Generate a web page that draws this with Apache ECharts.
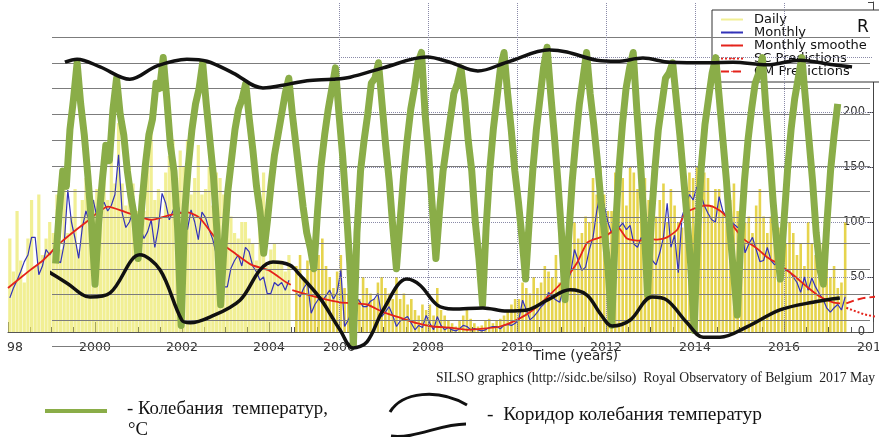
<!DOCTYPE html>
<html><head><meta charset="utf-8">
<script src="https://cdn.jsdelivr.net/npm/echarts@6/dist/echarts.min.js"></script>
<style>html,body{margin:0;padding:0;background:#fff}#c{width:879px;height:437px}</style>
</head><body><div id="c"></div>
<script>
// ---------------- SILSO sunspot data (left panel 1998.0-2004.5, monthly) ----------------
const leftStartYear = 1998;
const dailyLeftHigh = [
  95, 70, 120, 85, 60, 110, 140, 90, 150, 100, 120, 130,
  120, 150, 110, 160, 130, 140, 170, 120, 150, 180, 140, 160,
  170, 150, 190, 160, 210, 180, 230, 170, 160, 190, 170, 150,
  160, 140, 200, 230, 150, 170, 140, 190, 200, 220, 180, 200,
  190, 210, 170, 180, 200, 160, 170, 180, 150, 170, 160, 140,
  130, 120, 110, 100, 110, 120, 100, 90, 80, 110, 150, 70,
  80, 90, 70, 75, 60, 80];
const dailyLeftLow = [
  10, 15, 10, 20, 15, 25, 20, 30, 25, 30, 35, 30,
  30, 25, 35, 30, 40, 35, 40, 45, 30, 40, 45, 40,
  40, 35, 45, 40, 50, 45, 40, 35, 45, 40, 35, 40,
  35, 30, 25, 35, 30, 40, 35, 45, 40, 45, 40, 35,
  40, 35, 45, 40, 30, 35, 40, 30, 35, 25, 20, 15,
  10, 15, 20, 15, 10, 20, 15, 10, 15, 10, 5, 10,
  5, 10, 5, 10, 5, 10];
const monthlyLeft = [
  31, 40, 47, 55, 64, 70, 86, 86, 52, 60, 75, 70,
  75, 65, 63, 80, 129, 100, 85, 67, 95, 110, 100, 120,
  105, 115, 118, 110, 115, 125, 161, 108, 95, 100, 110, 105,
  95, 85, 91, 102, 77, 95, 126, 117, 102, 110, 120, 108,
  108, 93, 111, 100, 84, 109, 104, 93, 84, 70, 60, 41,
  41, 58, 65, 70, 60, 77, 73, 60, 55, 47, 50, 35,
  35, 45, 42, 45, 38, 47];
const smoothLeftYears = [1998.0, 1998.5, 1998.8, 1999.2, 1999.8, 2000.3, 2000.7, 2001.3, 2001.7, 2002.1, 2002.4, 2002.8, 2003.2, 2003.6, 2004.0, 2004.4, 2004.5];
const smoothLeftValues = [40, 56, 65, 81, 100, 114, 109, 102, 106, 109, 104, 84, 72, 61, 56, 45, 43];

// ---------------- SILSO sunspot data (right panel 2005.0-2017.4, monthly) ----------------
const rightStartYear = 2005;
const dailyRightHigh = [
  60, 70, 50, 65, 80, 90, 70, 85, 60, 50, 40, 55,
  70, 40, 35, 60, 45, 30, 50, 40, 35, 30, 45, 50,
  40, 35, 30, 50, 30, 35, 25, 30, 20, 15, 25, 20,
  25, 15, 40, 20, 15, 10, 8, 5, 10, 15, 20, 12,
  8, 5, 6, 10, 12, 8, 10, 12, 15, 20, 25, 30,
  30, 45, 40, 35, 50, 40, 45, 60, 55, 50, 70, 45,
  60, 80, 120, 110, 90, 100, 120, 110, 160, 150, 170, 140,
  130, 120, 160, 140, 150, 130, 170, 160, 140, 150, 160, 130,
  120, 110, 130, 150, 120, 140, 130, 110, 100, 150, 170, 160,
  180, 200, 170, 160, 140, 150, 160, 130, 150, 140, 150, 130,
  120, 110, 120, 100, 130, 140, 110, 100, 110, 90, 100, 110,
  80, 100, 90, 70, 80, 60, 100, 80, 70, 60, 80, 60,
  50, 60, 40, 45, 100];
const dailyRightLow = [
  0, 0, 0, 0, 0, 0, 0, 0, 0, 0, 0, 0,
  0, 0, 0, 0, 0, 0, 0, 0, 0, 0, 0, 0,
  0, 0, 0, 0, 0, 0, 0, 0, 0, 0, 0, 0,
  0, 0, 0, 0, 0, 0, 0, 0, 0, 0, 0, 0,
  0, 0, 0, 0, 0, 0, 0, 0, 0, 0, 0, 0,
  0, 0, 0, 0, 0, 0, 0, 0, 0, 0, 0, 0,
  0, 5, 10, 10, 5, 10, 15, 10, 20, 25, 20, 15,
  20, 10, 15, 20, 10, 15, 20, 15, 10, 15, 20, 10,
  10, 5, 10, 15, 20, 10, 15, 10, 5, 20, 25, 20,
  30, 35, 25, 20, 25, 20, 30, 20, 25, 20, 15, 20,
  15, 10, 15, 10, 15, 10, 5, 10, 5, 10, 5, 10,
  0, 0, 0, 0, 0, 0, 0, 0, 0, 0, 0, 0,
  0, 0, 0, 0, 0];
const monthlyRight = [
  35, 32, 40, 45, 17, 25, 30, 28, 33, 38, 30, 36,
  56, 5, 11, 20, 32, 28, 23, 23, 28, 30, 35, 14,
  18, 23, 15, 5, 10, 12, 14, 8, 2, 6, 4, 15,
  8, 2, 14, 6, 2, 4, 2, 1, 3, 6, 5, 2,
  3, 2, 1, 2, 4, 5, 5, 3, 6, 7, 6, 8,
  11, 29, 20, 11, 14, 18, 23, 26, 36, 32, 29, 27,
  38, 45, 54, 75, 65, 56, 59, 75, 86, 110, 127, 115,
  100, 90, 93, 95, 99, 93, 97, 80, 77, 86, 82, 75,
  65, 61, 72, 86, 117, 77, 88, 54, 105, 115, 125, 120,
  132, 126, 115, 108, 102, 100, 123, 110, 105, 100, 98, 95,
  95, 72, 80, 86, 75, 64, 65, 77, 65, 61, 65, 60,
  56, 55, 50, 45, 36, 50, 38, 49, 41, 35, 30, 22,
  18, 22, 25, 20, 32];
const smoothRightYears = [2004.95, 2005.12, 2005.57, 2006.02, 2006.63, 2006.99, 2007.37, 2007.75, 2008.11, 2008.49, 2008.88, 2009.24, 2009.62, 2010.0, 2010.36, 2010.74, 2011.12, 2011.35, 2011.57, 2011.71, 2011.87, 2012.02, 2012.27, 2012.47, 2012.76, 2012.92, 2013.15, 2013.37, 2013.6, 2013.78, 2014.22, 2014.4, 2014.63, 2015.08, 2015.39, 2015.62, 2015.91, 2016.2, 2016.52, 2016.81, 2017.1, 2017.26];
const smoothRightValues = [38, 36, 31, 27, 25, 18, 13, 8, 5, 4, 2, 3, 5, 11, 20, 34, 50, 63, 81, 84, 86, 88, 95, 85, 83, 85, 84, 86, 93, 108, 115, 114, 108, 85, 76, 68, 61, 52, 41, 32, 27, 26];
const predYears = [2017.4, 2017.6, 2017.8, 2018.05];
const scPredValues = [22, 19, 16, 14];
const cmPredValues = [26, 29, 31, 32];

// ---------------- axis ticks / labels ----------------
const majorYearsLeft = [1998, 2000, 2002, 2004];
const majorYearsRight = [2006, 2008, 2010, 2012, 2014, 2016, 2018];
const dottedGridYears = [2006, 2008, 2010, 2012, 2014, 2016];
const dottedGridValues = [50, 100, 150, 200, 250];
const rLabelMax = 200;

// ---------------- overlay: temperature oscillation (monthly, °C) ----------------
const tempStartMonth = 1;
const tempValues = [
  -14, -4, 4, 1, 12, 18, 25, 17, 11, 3, -6, -18,
  -6, 2, 9, 6, 16, 22, 15, 11, 4, -1, -5, -13,
  -3, 5, 11, 14, 21, 20, 26, 18, 9, 4, -7, -26,
  -4, 5, 12, 17, 20, 25, 17, 10, 3, -8, -22,
  -10, 0, 6, 12, 16, 18, 21, 14, 8, 1, -4, -12,
  -6, 1, 7, 11, 15, 19, 22, 15, 9, 3, -3, -8, -11, -15,
  -4, 5, 11, 16, 20, 24, 15, 7, -3, -14, -30,
  -8, 4, 10, 15, 21, 22, 25, 17, 9, 2, -7, -15,
  -6, 3, 10, 16, 20, 25, 27, 15, 7, -3, -13,
  -4, 4, 9, 14, 19, 21, 24, 18, 10, 4, -6, -13, -22,
  -7, 4, 12, 18, 24, 27, 19, 12, 4, -2, -9, -17,
  -6, 4, 12, 18, 24, 28, 19, 11, 2, -8, -21,
  -9, 2, 10, 17, 22, 27, 19, 13, 6, -2, -8, -15, -26,
  -8, 4, 13, 20, 24, 27, 16, 6, -6, -20,
  -6, 4, 12, 17, 22, 23, 25, 18, 11, 3, -5, -14, -27,
  -7, 5, 13, 18, 23, 26, 18, 10, 2, -8, -16, -24,
  -9, 2, 10, 16, 21, 23, 26, 16, 8, -2, -10, -17,
  -6, 4, 12, 18, 22, 26, 18, 10, 2, -8, -15, -18,
  -6, 4, 11, 17];
const corridorUpperMonths = [3.6, 7.0, 13.4, 21.7, 29.3, 37.6, 43.2, 50.5, 58.8, 66.3, 71.1, 78.3, 83.1, 92.3, 104.5, 110.9, 118.7, 126.8, 138.8, 143.5, 151.9, 157.5, 164.7, 172.3, 183.4, 189.8, 199.3, 208.5, 217.7, 223.0];
const corridorUpperValues = [25.1, 25.7, 24.2, 21.8, 24.4, 25.7, 25.3, 23.0, 20.1, 20.9, 21.5, 21.8, 22.2, 24.0, 26.1, 25.1, 23.4, 25.1, 27.5, 27.1, 25.5, 25.3, 25.9, 25.1, 25.0, 25.1, 24.6, 25.5, 24.6, 24.2];
const corridorLowerMonths = [-2.5, 4.2, 10.6, 16.2, 24.5, 30.1, 36.2, 38.5, 44.0, 52.4, 58.0, 61.6, 66.3, 69.1, 74.7, 80.3, 83.9, 87.8, 92.3, 98.9, 102.6, 107.3, 111.8, 120.1, 126.8, 132.4, 138.0, 144.4, 149.1, 152.7, 156.1, 161.1, 167.2, 171.4, 177.0, 181.5, 186.2, 193.7, 202.9, 212.1, 219.6];
const corridorLowerValues = [-14.9, -17.8, -20.5, -19.7, -12.3, -15.2, -25.0, -25.5, -24.4, -21.1, -15.2, -13.7, -14.3, -16.2, -20.7, -26.9, -30.4, -29.2, -23.0, -17.0, -18.2, -22.0, -22.8, -22.6, -23.2, -23.0, -21.1, -19.1, -20.1, -23.6, -26.1, -25.0, -20.5, -21.1, -25.5, -28.3, -28.3, -26.3, -23.0, -21.5, -20.7];

// ---------------- build ----------------
const mid = (start, i) => start + (i + 0.5) / 12;
const pairs = (xs, ys) => xs.map((x, i) => [x, ys[i]]);
const FONT = 'DejaVu Sans';
const RED = '#e4231b', BLUE = '#3333b8', GREEN = '#8aad48';

const hiddenY = (g) => ({ gridIndex: g, type: 'value', show: false, min: 0, max: 1 });
const chart = echarts.init(document.getElementById('c'), null, { renderer: 'canvas' });

const option = {
  animation: false,
  backgroundColor: '#fff',
  grid: [
    { left: 8, top: 2, width: 282.75, height: 330, outerBoundsMode: 'none' },
    { left: 290.94, top: 2, width: 582.06, height: 330, outerBoundsMode: 'none' },
    { left: 52, top: 37, width: 818, height: 309, outerBoundsMode: 'none' },
    { left: 8, top: 2, width: 282.75, height: 330, outerBoundsMode: 'none' },
    { left: 294.5, top: 2, width: 578.5, height: 330, outerBoundsMode: 'none' },
    { left: 8, top: 2, width: 261, height: 330, outerBoundsMode: 'none' },
    { left: 339, top: 2, width: 534, height: 330, outerBoundsMode: 'none' }
  ],
  xAxis: [
    { gridIndex: 0, type: 'value', min: 1998, max: 2004.5, axisLine: { show: true, onZero: false, lineStyle: { color: '#555' } }, axisTick: { show: false }, axisLabel: { show: false }, splitLine: { show: false } },
    { gridIndex: 1, type: 'value', min: 2004.92, max: 2018, axisLine: { show: true, onZero: false, lineStyle: { color: '#555' } }, axisTick: { show: false }, axisLabel: { show: false }, splitLine: { show: false } },
    { gridIndex: 2, type: 'value', min: 0, max: 228, show: false },
    { gridIndex: 3, type: 'value', min: 1998, max: 2004.5, interval: 0.5, axisLine: { show: false }, axisTick: { inside: true, length: 5, lineStyle: { color: '#555' } }, axisLabel: { show: false }, splitLine: { show: false } },
    { gridIndex: 4, type: 'value', min: 2005, max: 2018, interval: 0.5, axisLine: { show: false }, axisTick: { inside: true, length: 5, lineStyle: { color: '#555' } }, axisLabel: { show: false }, splitLine: { show: false } },
    { gridIndex: 5, type: 'value', min: majorYearsLeft[0], max: majorYearsLeft[majorYearsLeft.length - 1], interval: 2, axisLine: { show: false }, axisTick: { inside: true, length: 10, lineStyle: { color: '#555' } }, splitLine: { show: false },
      axisLabel: { margin: 9, fontFamily: FONT, fontSize: 12.5, color: '#333',
        formatter: v => v === 1998 ? '{s|98}' : String(v),
        rich: { s: { padding: [0, 0, 0, 14], fontFamily: FONT, fontSize: 12.5, color: '#333' } } } },
    { gridIndex: 6, type: 'value', min: majorYearsRight[0], max: majorYearsRight[majorYearsRight.length - 1], interval: 2, axisLine: { show: false }, axisTick: { inside: true, length: 10, lineStyle: { color: '#555' } }, splitLine: { show: false },
      axisLabel: { margin: 9, fontFamily: FONT, fontSize: 12.5, color: '#333', formatter: v => String(v) } }
  ],
  yAxis: [
    { gridIndex: 0, type: 'value', min: 0, max: 300, show: false },
    { gridIndex: 1, type: 'value', min: 0, max: 300, interval: 50, position: 'right',
      axisLine: { show: true, lineStyle: { color: '#444' } },
      axisTick: { inside: true, length: 5, lineStyle: { color: '#444' } },
      axisLabel: { inside: true, margin: 8, fontFamily: FONT, fontSize: 11.5, color: '#333', padding: [0, 0, 9, 0], formatter: v => v <= rLabelMax ? String(v) : '' },
      splitLine: { show: false } },
    { gridIndex: 2, type: 'value', min: -30, max: 30, interval: 5, z: 5,
      axisLine: { show: false }, axisTick: { show: false }, axisLabel: { show: false },
      splitLine: { show: true, lineStyle: { color: '#7c7c7c', width: 1.2 } } },
    hiddenY(3), hiddenY(4), hiddenY(5), hiddenY(6)
  ],
  legend: {
    data: ['Daily', 'Monthly', 'Monthly smoothed', 'SC Predictions', 'CM Predictions'],
    orient: 'vertical', left: 712, top: 10, itemGap: 0, itemWidth: 22, itemHeight: 2,
    padding: [3, 30, 4, 8], backgroundColor: '#fff', borderColor: '#333', borderWidth: 1,
    selectedMode: false, z: 4,
    lineStyle: { width: 2 },
    textStyle: { fontFamily: FONT, fontSize: 13, color: '#111', lineHeight: 13, padding: [0, 0, 0, 6], width: 122, overflow: 'truncate', ellipsis: '' }
  },
  graphic: [
    { type: 'text', left: 857, top: 19, z: 10, style: { text: 'R', font: '17px "DejaVu Sans"', fill: '#111' } },
    { type: 'text', left: 533, top: 349, style: { text: 'Time (years)', font: '13.5px "DejaVu Sans"', fill: '#222' } },
    { type: 'text', left: 436, top: 371, style: { text: 'SILSO graphics (http://sidc.be/silso)  Royal Observatory of Belgium  2017 May', font: '13.7px "Liberation Serif"', fill: '#222' } },
    { type: 'line', shape: { x1: 45, y1: 411, x2: 107, y2: 411 }, style: { stroke: GREEN, lineWidth: 4 } },
    { type: 'text', left: 127, top: 400, style: { text: '- Колебания  температур,', font: '18.8px "Liberation Serif"', fill: '#111' } },
    { type: 'text', left: 128, top: 421, style: { text: '°C', font: '18.8px "Liberation Serif"', fill: '#111' } },
    { type: 'bezierCurve', shape: { x1: 390, y1: 412, cpx1: 402, cpy1: 392, cpx2: 438, cpy2: 388, x2: 467, y2: 405 }, style: { stroke: '#111', lineWidth: 3, fill: null } },
    { type: 'bezierCurve', shape: { x1: 391, y1: 436, cpx1: 415, cpy1: 439, cpx2: 440, cpy2: 424, x2: 466, y2: 424 }, style: { stroke: '#111', lineWidth: 3, fill: null } },
    { type: 'text', left: 487, top: 405, style: { text: '-  Коридор колебания температур', font: '19.4px "Liberation Serif"', fill: '#111' } }
  ],
  series: [
    { type: 'line', name: 'grid', xAxisIndex: 1, yAxisIndex: 1, data: [], silent: true, z: 1,
      markLine: { silent: true, symbol: ['none', 'none'], label: { show: false }, animation: false,
        lineStyle: { type: 'dotted', color: '#8a8aa8', width: 1 },
        data: dottedGridYears.map(y => [{ coord: [y, 0] }, { coord: [y, 300] }])
          .concat(dottedGridValues.map(v => [{ coord: [2006, v] }, { coord: [2018, v] }])) } },
    { type: 'bar', name: 'DailyBaseL', stack: 'dl', xAxisIndex: 0, yAxisIndex: 0, barWidth: 3.2, silent: true,
      itemStyle: { color: 'rgba(0,0,0,0)' }, data: dailyLeftLow.map((v, i) => [mid(leftStartYear, i), v]) },
    { type: 'bar', name: 'Daily', stack: 'dl', xAxisIndex: 0, yAxisIndex: 0, barWidth: 3.2,
      itemStyle: { color: '#ebe866', opacity: 0.7 }, data: dailyLeftHigh.map((v, i) => [mid(leftStartYear, i), v - dailyLeftLow[i]]) },
    { type: 'bar', name: 'DailyBaseR', stack: 'dr', xAxisIndex: 1, yAxisIndex: 1, barWidth: 2.6, silent: true,
      itemStyle: { color: 'rgba(0,0,0,0)' }, data: dailyRightLow.map((v, i) => [mid(rightStartYear, i), v]) },
    { type: 'bar', name: 'Daily', stack: 'dr', xAxisIndex: 1, yAxisIndex: 1, barWidth: 2.6,
      itemStyle: { color: '#e2cc2e', opacity: 0.85 }, data: dailyRightHigh.map((v, i) => [mid(rightStartYear, i), v - dailyRightLow[i]]) },
    { type: 'line', name: 'Monthly', xAxisIndex: 0, yAxisIndex: 0, symbol: 'none', z: 3,
      lineStyle: { color: BLUE, width: 1.2 }, itemStyle: { color: BLUE }, data: monthlyLeft.map((v, i) => [mid(leftStartYear, i), v]) },
    { type: 'line', name: 'Monthly', xAxisIndex: 1, yAxisIndex: 1, symbol: 'none', z: 3,
      lineStyle: { color: BLUE, width: 1.2 }, itemStyle: { color: BLUE }, data: monthlyRight.map((v, i) => [mid(rightStartYear, i), v]) },
    { type: 'line', name: 'Monthly smoothed', xAxisIndex: 0, yAxisIndex: 0, symbol: 'none', smooth: 0.2, z: 3,
      lineStyle: { color: RED, width: 1.8 }, itemStyle: { color: RED }, data: pairs(smoothLeftYears, smoothLeftValues) },
    { type: 'line', name: 'Monthly smoothed', xAxisIndex: 1, yAxisIndex: 1, symbol: 'none', smooth: 0.2, z: 3,
      lineStyle: { color: RED, width: 1.8 }, itemStyle: { color: RED }, data: pairs(smoothRightYears, smoothRightValues) },
    { type: 'line', name: 'SC Predictions', xAxisIndex: 1, yAxisIndex: 1, symbol: 'none', z: 3,
      lineStyle: { color: RED, width: 2, type: 'dotted' }, itemStyle: { color: RED }, data: pairs(predYears, scPredValues) },
    { type: 'line', name: 'CM Predictions', xAxisIndex: 1, yAxisIndex: 1, symbol: 'none', z: 3,
      lineStyle: { color: RED, width: 2, type: 'dashed' }, itemStyle: { color: RED }, data: pairs(predYears, cmPredValues) },
    { type: 'line', name: 'Колебания температур, °C', xAxisIndex: 2, yAxisIndex: 2, symbol: 'none', z: 6,
      lineStyle: { color: GREEN, width: 7, join: 'round' }, itemStyle: { color: GREEN },
      data: tempValues.map((v, i) => [tempStartMonth + i, v]) },
    { type: 'line', name: 'Коридор колебания температур', xAxisIndex: 2, yAxisIndex: 2, symbol: 'none', z: 7, clip: false, smooth: 0.35,
      lineStyle: { color: '#111', width: 3.5 }, itemStyle: { color: '#111' }, data: pairs(corridorUpperMonths, corridorUpperValues) },
    { type: 'line', name: 'Коридор колебания температур', xAxisIndex: 2, yAxisIndex: 2, symbol: 'none', z: 7, clip: false, smooth: 0.35,
      lineStyle: { color: '#111', width: 3.5 }, itemStyle: { color: '#111' }, data: pairs(corridorLowerMonths, corridorLowerValues) }
  ]
};
chart.setOption(option);
</script></body></html>
